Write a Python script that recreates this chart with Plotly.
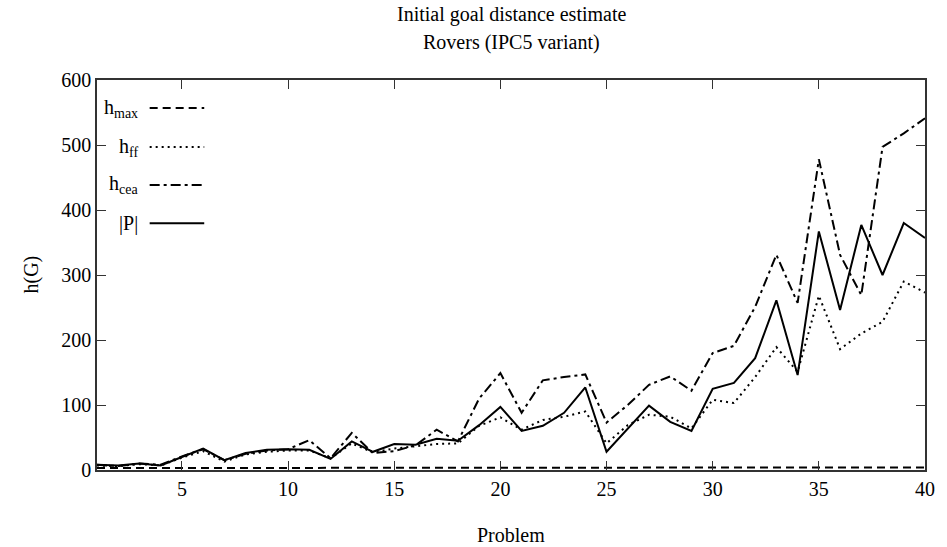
import plotly.graph_objects as go

problems = list(range(1, 41))

h_max = [3, 3, 3, 3, 3, 3, 3, 3, 3, 3, 4, 4, 3, 3, 3, 3, 3, 3, 3, 3, 3, 3, 3, 4, 3,
         3, 3, 3, 3, 3, 3, 3, 3, 3, 4, 4, 4, 4, 4, 4]
h_ff = [7, 6, 9, 7, 19, 29, 13, 24, 28, 30, 30, 18, 41, 27, 33, 36, 40, 41, 68, 81,
        62, 77, 82, 90, 41, 69, 85, 82, 64, 108, 103, 143, 189, 151, 268, 186, 210, 228, 290, 273]
h_cea = [8, 6, 10, 8, 21, 32, 15, 25, 30, 32, 46, 18, 57, 26, 29, 38, 62, 44, 110, 149,
         88, 138, 143, 147, 73, 100, 131, 144, 122, 180, 191, 251, 331, 257, 478, 331, 269, 497, 518, 541]
plan_len = [8, 7, 10, 7, 20, 33, 15, 26, 31, 32, 31, 17, 44, 28, 40, 39, 48, 45, 69, 97,
            60, 68, 88, 127, 28, 64, 99, 74, 60, 125, 134, 172, 261, 146, 367, 246, 377, 300, 380, 357]

x_ticks = [5, 10, 15, 20, 25, 30, 35, 40]
y_ticks = [0, 100, 200, 300, 400, 500, 600]

FONT = "Liberation Serif"
FS = 20

series = [
    ("h<sub>max</sub>", h_max, "8px,5px"),
    ("h<sub>ff</sub>", h_ff, "2px,4px"),
    ("h<sub>cea</sub>", h_cea, "10px,4px,3px,4px"),
    ("|P|", plan_len, "solid"),
]

fig = go.Figure()
for name, vals, dash in series:
    fig.add_trace(go.Scatter(x=problems, y=vals, mode="lines", name=name,
                             line=dict(color="black", width=2, dash=dash),
                             showlegend=False))

# gnuplot-style key: text, then line sample
key_rows = [0.928, 0.828, 0.731, 0.633]
for (name, vals, dash), yk in zip(series, key_rows):
    fig.add_annotation(xref="paper", yref="paper", x=0.0516, y=yk, text=name,
                       showarrow=False, xanchor="right", yanchor="middle",
                       font=dict(family=FONT, size=FS, color="black"))
    fig.add_shape(type="line", xref="paper", yref="paper", x0=0.0636, x1=0.1295,
                  y0=yk, y1=yk, line=dict(color="black", width=2, dash=dash))

# titles
fig.add_annotation(xref="paper", yref="paper", x=0.5, y=1.1667,
                   text="Initial goal distance estimate", showarrow=False,
                   xanchor="center", yanchor="middle",
                   font=dict(family=FONT, size=FS, color="black"))
fig.add_annotation(xref="paper", yref="paper", x=0.5, y=1.0974,
                   text="Rovers (IPC5 variant)", showarrow=False,
                   xanchor="center", yanchor="middle",
                   font=dict(family=FONT, size=FS, color="black"))
# axis titles
fig.add_annotation(xref="paper", yref="paper", x=0.5, y=-0.1667,
                   text="Problem", showarrow=False,
                   xanchor="center", yanchor="middle",
                   font=dict(family=FONT, size=FS, color="black"))
fig.add_annotation(xref="paper", yref="paper", x=-0.0803, y=0.5,
                   text="h(G)", showarrow=False, textangle=-90,
                   xanchor="center", yanchor="middle",
                   font=dict(family=FONT, size=FS, color="black"))

fig.update_layout(
    width=947, height=547,
    margin=dict(l=97, r=16, t=80, b=77),
    paper_bgcolor="white", plot_bgcolor="white",
    font=dict(family=FONT, size=FS, color="black"),
    xaxis=dict(range=[1, 40], tickvals=x_ticks, ticks="inside", ticklen=9,
               tickcolor="#333", showline=True, linecolor="#333", linewidth=1.5,
               mirror="allticks", showgrid=False, zeroline=False,
               tickfont=dict(family=FONT, size=FS, color="black")),
    yaxis=dict(range=[0, 600], tickvals=y_ticks, ticks="inside", ticklen=9,
               tickcolor="#333", showline=True, linecolor="#333", linewidth=1.5,
               mirror="allticks", showgrid=False, zeroline=False,
               tickfont=dict(family=FONT, size=FS, color="black")),
)

fig.write_html("out.html")
